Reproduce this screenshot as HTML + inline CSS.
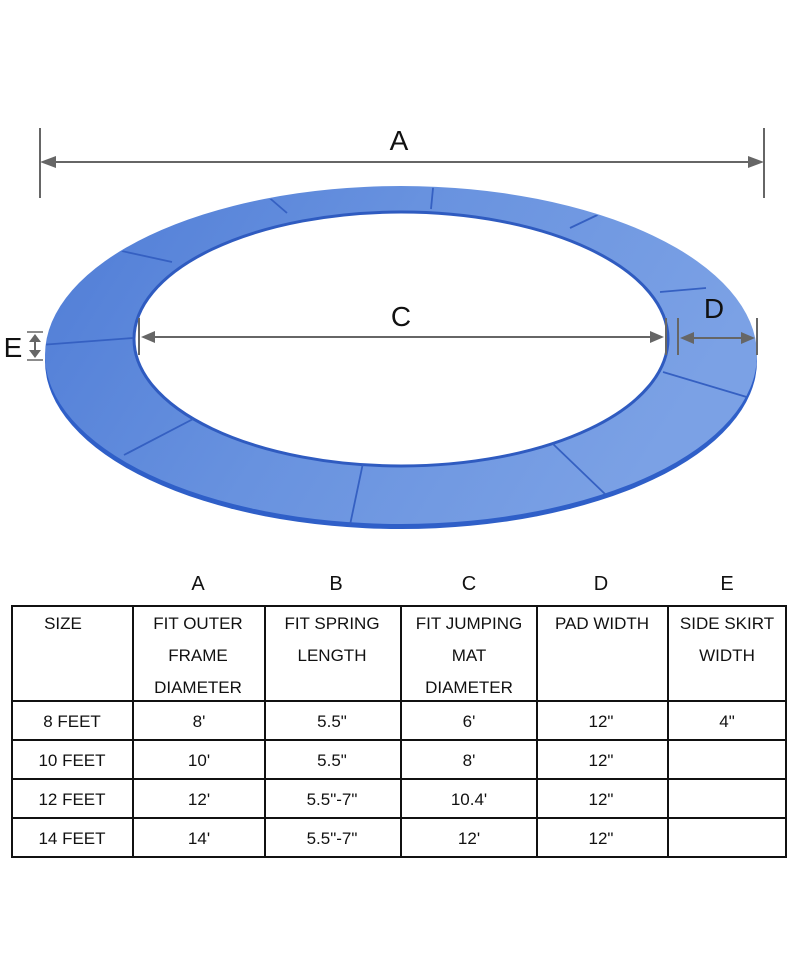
<!DOCTYPE html>
<html><head><meta charset="utf-8"><style>
body{margin:0;background:#fff;}
svg{display:block}
</style></head><body>
<svg width="800" height="977" viewBox="0 0 800 977" xmlns="http://www.w3.org/2000/svg" font-family="Liberation Sans, sans-serif">
<defs>
<linearGradient id="g" x1="0" y1="0" x2="1" y2="0.3">
<stop offset="0" stop-color="#4f7cd6"/><stop offset="0.5" stop-color="#6892df"/><stop offset="1" stop-color="#7ba1e5"/>
</linearGradient>
<mask id="m"><rect width="800" height="977" fill="#fff"/><ellipse cx="401" cy="339" rx="267" ry="127" fill="#000"/></mask>
<clipPath id="c"><ellipse cx="401" cy="357" rx="356" ry="170"/></clipPath>
</defs>
<g mask="url(#m)">
<ellipse cx="401" cy="361" rx="356" ry="168" fill="#2f5fc8"/>
<ellipse cx="401" cy="355" rx="356" ry="169" fill="url(#g)"/>
</g>
<ellipse cx="401" cy="339" rx="267" ry="127" fill="none" stroke="#2f5bc0" stroke-width="3"/>
<g stroke="#3560c2" stroke-width="1.8" fill="none" clip-path="url(#c)" mask="url(#m)">
<line x1="258" y1="188" x2="287" y2="213"/>
<line x1="434" y1="178" x2="431" y2="209"/>
<line x1="610" y1="209" x2="570" y2="228"/>
<line x1="706" y1="288" x2="660" y2="292"/>
<line x1="108" y1="248" x2="172" y2="262"/>
<line x1="40" y1="345" x2="133" y2="338"/>
<line x1="195" y1="418" x2="124" y2="455"/>
<line x1="363" y1="463" x2="350" y2="525"/>
<line x1="552" y1="443" x2="605" y2="494"/>
<line x1="663" y1="372" x2="750" y2="398"/>
</g>
<g stroke="#666" stroke-width="2" fill="#666">
<line x1="40" y1="128" x2="40" y2="198"/>
<line x1="764" y1="128" x2="764" y2="198"/>
<line x1="50" y1="162" x2="754" y2="162"/>
<polygon points="40,162 56,156 56,168" stroke="none"/>
<polygon points="764,162 748,156 748,168" stroke="none"/>
<line x1="139" y1="318" x2="139" y2="355"/>
<line x1="666" y1="318" x2="666" y2="355"/>
<line x1="150" y1="337" x2="656" y2="337"/>
<polygon points="141,337 155,331 155,343" stroke="none"/>
<polygon points="664,337 650,331 650,343" stroke="none"/>
<line x1="678" y1="318" x2="678" y2="355"/>
<line x1="757" y1="318" x2="757" y2="355"/>
<line x1="688" y1="338" x2="747" y2="338"/>
<polygon points="680,338 694,332 694,344" stroke="none"/>
<polygon points="755,338 741,332 741,344" stroke="none"/>
<line x1="27" y1="332" x2="43" y2="332" stroke-width="1.5"/>
<line x1="27" y1="360" x2="43" y2="360" stroke-width="1.5"/>
<line x1="35" y1="336" x2="35" y2="356"/>
<polygon points="35,334 29,342 41,342" stroke="none"/>
<polygon points="35,358 29,350 41,350" stroke="none"/>
</g>
<g font-size="28" fill="#111" text-anchor="middle">
<text x="399" y="150">A</text>
<text x="401" y="326">C</text>
<text x="714" y="318">D</text>
<text x="13" y="357">E</text>
</g>
<g font-size="20" fill="#111" text-anchor="middle">
<text x="198" y="590">A</text><text x="336" y="590">B</text><text x="469" y="590">C</text><text x="601" y="590">D</text><text x="727" y="590">E</text>
</g>
<g stroke="#111" stroke-width="2" fill="none">
<rect x="12" y="606" width="774" height="251"/>
<line x1="12" y1="701" x2="786" y2="701"/>
<line x1="12" y1="740" x2="786" y2="740"/>
<line x1="12" y1="779" x2="786" y2="779"/>
<line x1="12" y1="818" x2="786" y2="818"/>
<line x1="133" y1="606" x2="133" y2="857"/>
<line x1="265" y1="606" x2="265" y2="857"/>
<line x1="401" y1="606" x2="401" y2="857"/>
<line x1="537" y1="606" x2="537" y2="857"/>
<line x1="668" y1="606" x2="668" y2="857"/>
</g>
<g font-size="17" fill="#111" text-anchor="middle">
<text x="63" y="629">SIZE</text>
<text x="198" y="629">FIT OUTER</text><text x="198" y="661">FRAME</text><text x="198" y="693">DIAMETER</text>
<text x="332" y="629">FIT SPRING</text><text x="332" y="661">LENGTH</text>
<text x="469" y="629">FIT JUMPING</text><text x="469" y="661">MAT</text><text x="469" y="693">DIAMETER</text>
<text x="602" y="629">PAD WIDTH</text>
<text x="727" y="629">SIDE SKIRT</text><text x="727" y="661">WIDTH</text>
<text x="72" y="727">8 FEET</text><text x="199" y="727">8'</text><text x="332" y="727">5.5"</text><text x="469" y="727">6'</text><text x="601" y="727">12"</text><text x="727" y="727">4"</text>
<text x="72" y="766">10 FEET</text><text x="199" y="766">10'</text><text x="332" y="766">5.5"</text><text x="469" y="766">8'</text><text x="601" y="766">12"</text>
<text x="72" y="805">12 FEET</text><text x="199" y="805">12'</text><text x="332" y="805">5.5"-7"</text><text x="469" y="805">10.4'</text><text x="601" y="805">12"</text>
<text x="72" y="844">14 FEET</text><text x="199" y="844">14'</text><text x="332" y="844">5.5"-7"</text><text x="469" y="844">12'</text><text x="601" y="844">12"</text>
</g>
</svg>
</body></html>
